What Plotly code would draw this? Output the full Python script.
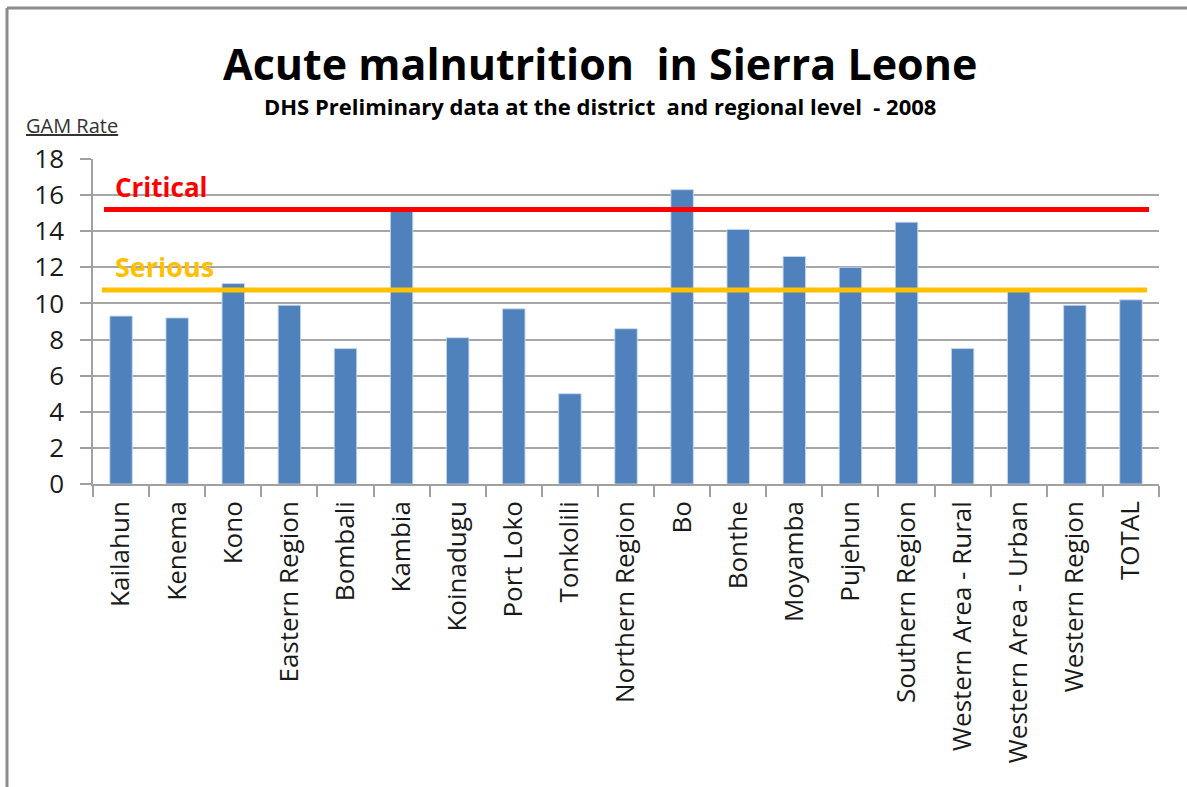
import plotly.graph_objects as go

categories = ["Kailahun", "Kenema", "Kono", "Eastern Region", "Bombali", "Kambia",
              "Koinadugu", "Port Loko", "Tonkolili", "Northern Region", "Bo", "Bonthe",
              "Moyamba", "Pujehun", "Southern Region", "Western Area - Rural",
              "Western Area - Urban", "Western Region", "TOTAL"]
gam_rate = [9.3, 9.2, 11.1, 9.9, 7.5, 15.1, 8.1, 9.7, 5.0, 8.6, 16.3, 14.1,
            12.6, 12.0, 14.5, 7.5, 10.7, 9.9, 10.2]
critical_level = 15.2
serious_level = 10.75
y_ticks = [0, 2, 4, 6, 8, 10, 12, 14, 16, 18]

W, H = 1187, 787
L, R, T, B = 93, 1159, 159, 484
pw, ph = R - L, B - T

def px(x):
    return (x - L) / pw

def py(y):
    return (B - y) / ph

FONT = "Open Sans"

fig = go.Figure()
fig.add_trace(go.Bar(
    x=categories, y=gam_rate, width=0.4,
    marker=dict(color="#4F81BD", line=dict(color="rgba(200,215,235,0.9)", width=1)),
    showlegend=False,
))

shapes = [
    dict(type="line", xref="paper", yref="y", x0=px(104), x1=px(1149),
         y0=critical_level, y1=critical_level, line=dict(color="#FF0000", width=5), layer="above"),
    dict(type="line", xref="paper", yref="y", x0=px(102), x1=px(1147),
         y0=serious_level, y1=serious_level, line=dict(color="#FFC000", width=5), layer="above"),
    # frame
    dict(type="line", xref="paper", yref="paper", x0=px(7), x1=px(7), y0=py(8), y1=py(800),
         line=dict(color="#8C8C8C", width=3)),
    dict(type="line", xref="paper", yref="paper", x0=px(7), x1=px(1200), y0=py(8), y1=py(8),
         line=dict(color="#8C8C8C", width=3)),
]

annotations = [
    dict(text="<b>Acute malnutrition  in Sierra Leone</b>", xref="paper", yref="paper",
         x=px(600), y=py(63), xanchor="center", yanchor="middle", showarrow=False,
         font=dict(family=FONT, size=43, color="#000000")),
    dict(text="<b>DHS Preliminary data at the district  and regional level  - 2008</b>",
         xref="paper", yref="paper", x=px(600), y=py(106), xanchor="center", yanchor="middle",
         showarrow=False, font=dict(family=FONT, size=22, color="#000000")),
    dict(text="<u>GAM Rate</u>", xref="paper", yref="paper", x=px(24), y=py(126),
         xanchor="left", yanchor="middle", showarrow=False,
         font=dict(family=FONT, size=20, color="#333333")),
    dict(text="<b>Critical</b>", xref="paper", yref="y", x=px(113), y=critical_level,
         xanchor="left", yanchor="bottom", yshift=3, showarrow=False,
         font=dict(family=FONT, size=26, color="#FF0000")),
    dict(text="<b>Serious</b>", xref="paper", yref="y", x=px(113), y=serious_level,
         xanchor="left", yanchor="bottom", yshift=3, showarrow=False,
         font=dict(family=FONT, size=27, color="#FFC000")),
]

fig.update_layout(
    width=W, height=H,
    margin=dict(l=L, r=W - R, t=T, b=H - B, pad=0),
    plot_bgcolor="white", paper_bgcolor="white",
    shapes=shapes, annotations=annotations,
    bargap=0.6,
    font=dict(family=FONT, color="#1a1a1a"),
)
fig.update_xaxes(
    type="category", tickangle=-90, tickfont=dict(size=26, family=FONT, color="#1a1a1a"),
    showline=True, linecolor="#A0A0A0", linewidth=1.5,
    ticks="outside", tickson="boundaries", ticklen=11, tickcolor="#A0A0A0", tickwidth=1.5,
    ticklabelstandoff=5,
    showgrid=False, range=[-0.5, len(categories) - 0.5],
)
fig.update_yaxes(
    range=[0, 18], tickvals=y_ticks, tickfont=dict(size=26, family=FONT, color="#1a1a1a"),
    showgrid=True, gridcolor="#A6A6A6", gridwidth=1.5,
    showline=True, linecolor="#A0A0A0", linewidth=1.5,
    ticks="outside", ticklen=11, tickcolor="#A0A0A0", tickwidth=1.5,
    ticklabelstandoff=11,
    zeroline=False,
)

fig.write_html("out.html", config={"displayModeBar": False},
               post_script="document.body.style.margin='0px';")
